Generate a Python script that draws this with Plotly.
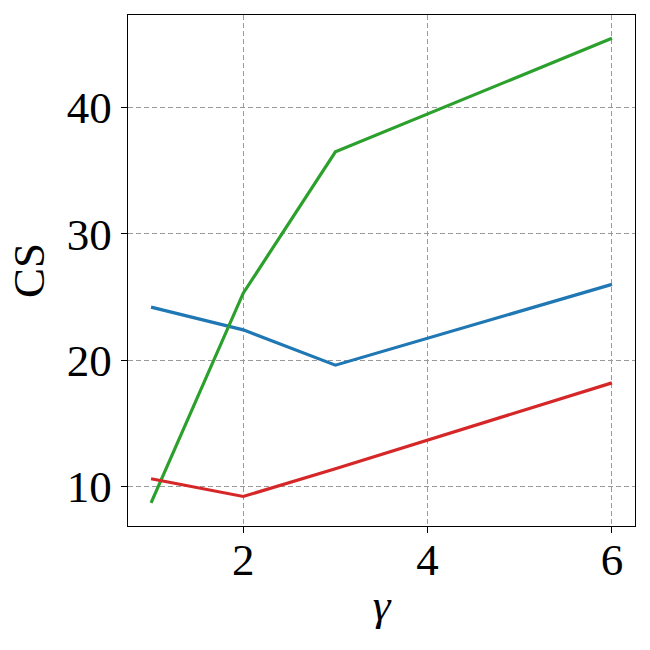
import plotly.graph_objects as go

gamma = [1, 2, 3, 6]
cs_blue = [24.2, 22.4, 19.6, 26.0]
cs_green = [8.7, 25.3, 36.5, 45.5]
cs_red = [10.6, 9.2, 11.4, 18.2]

FONT = "Liberation Serif, Times New Roman, serif"

fig = go.Figure()
fig.add_trace(go.Scatter(x=gamma, y=cs_blue, mode='lines', line=dict(color='#1f77b4', width=3.2)))
fig.add_trace(go.Scatter(x=gamma, y=cs_green, mode='lines', line=dict(color='#2ca02c', width=3.2)))
fig.add_trace(go.Scatter(x=gamma, y=cs_red, mode='lines', line=dict(color='#d62728', width=3.2)))

axis_style = dict(
    showline=True, linecolor='black', linewidth=1.3, mirror=True,
    ticks='outside', ticklen=6, tickwidth=1.3, tickcolor='black',
    showgrid=True, gridcolor='#9a9a9a', gridwidth=1.2, griddash='5px,3px',
    zeroline=False, tickfont=dict(family=FONT, size=45, color='black'),
)

fig.update_xaxes(range=[0.75, 6.25], tickvals=[2, 4, 6], ticklabelstandoff=-12,
                 title=dict(text='<i>γ</i>', font=dict(family=FONT, size=45, color='black'), standoff=4),
                 **axis_style)
fig.update_yaxes(range=[6.86, 47.34], tickvals=[10, 20, 30, 40],
                 title=dict(text='CS', font=dict(family=FONT, size=45, color='black'), standoff=8),
                 **axis_style)

fig.update_layout(width=650, height=650, showlegend=False,
                  plot_bgcolor='white', paper_bgcolor='white',
                  margin=dict(l=128, r=15, t=15, b=124))

# page body has a default margin, drop it so the figure sits at 0,0
fig.write_html("out.html", config={'displayModeBar': False},
               post_script="document.body.style.margin='0';")
